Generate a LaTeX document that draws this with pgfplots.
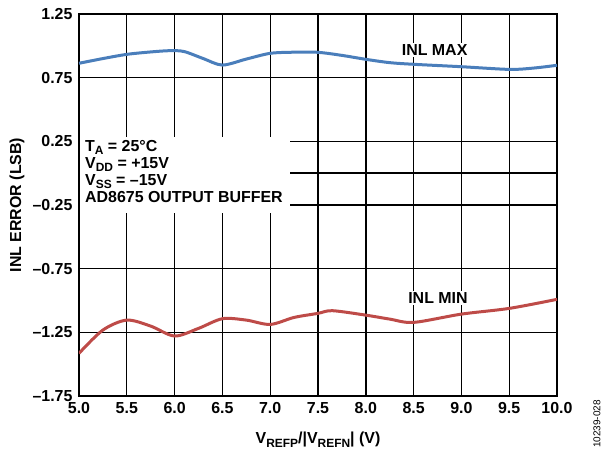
\documentclass[border=0pt]{standalone}
\usepackage{fontspec}
\setmainfont{Liberation Sans}
\usepackage{pgfplots}
\pgfplotsset{compat=1.18}
\definecolor{inlblue}{RGB}{74,126,187}
\definecolor{inlred}{RGB}{190,75,72}
\newcommand\sub[1]{\raisebox{-0.2em}{\fontsize{12}{12}\selectfont #1}}
\begin{document}
\begin{tikzpicture}
\path[use as bounding box] (-79bp,-56bp) rectangle (522bp,396bp);
\begin{axis}[
  scale only axis,
  width=478bp, height=382bp,
  xmin=5, xmax=10, ymin=-1.75, ymax=1.25,
  xtick={5,5.5,...,10},
  xticklabels={5.0,5.5,6.0,6.5,7.0,7.5,8.0,8.5,9.0,9.5,10.0},
  ytick={-1.75,-1.25,-0.75,-0.25,0,0.25,0.75,1.25},
  yticklabels={–1.75,–1.25,–0.75,–0.25,,0.25,0.75,1.25},
  /pgf/number format/assume math mode=true,
  tick style={draw=none},
  grid=major,
  major grid style={black, line width=1.4bp},
  axis line style={black, line width=2bp},
  tick label style={font=\fontsize{16}{17}\selectfont\bfseries},
  label style={font=\fontsize{16}{17}\selectfont\bfseries},
  xticklabel style={yshift=-3bp},
  yticklabel style={xshift=-3bp},
  xlabel={V\sub{REFP}/|V\sub{REFN}| (V)},
  ylabel={INL ERROR (LSB)},
  xlabel style={at={(axis description cs:0.5,-0.115)}, anchor=center},
  ylabel style={at={(axis description cs:-0.1297,0.5)}, anchor=center},
]
\fill[white] ([xshift=1.2bp]axis cs:5,-0.313) rectangle (axis cs:7.21,0.284);
\node[anchor=north west, align=left, inner sep=0pt,
      font=\fontsize{16}{17.2}\selectfont\bfseries]
  at ([xshift=6bp,yshift=-3bp]axis cs:5,0.284)
  {T\sub{A} = 25°C\\V\sub{DD} = +15V\\V\sub{SS} = –15V\\AD8675 OUTPUT BUFFER};
\addplot[inlblue, line width=3bp, smooth] coordinates {
(5.0,0.863) (5.25,0.90) (5.5,0.933) (5.75,0.952) (5.95,0.962) (6.1,0.955)
(6.3,0.9) (6.5,0.849) (6.75,0.896) (7.0,0.941) (7.25,0.95)
(7.5,0.949) (7.75,0.925) (8.0,0.894) (8.25,0.868) (8.5,0.855) (9.0,0.836)
(9.5,0.815) (9.75,0.825) (10.0,0.847)};
\addplot[inlred, line width=3bp, smooth] coordinates {
(5.0,-1.415) (5.25,-1.232) (5.5,-1.154) (5.75,-1.201) (6.0,-1.279) (6.25,-1.219)
(6.5,-1.143) (6.75,-1.154) (7.0,-1.188) (7.25,-1.133) (7.5,-1.101) (7.65,-1.08)
(8.0,-1.115) (8.25,-1.146) (8.5,-1.172) (9.0,-1.107) (9.5,-1.062) (10.0,-0.991)};
\node[fill=white, inner sep=1.5bp, font=\fontsize{16}{17}\selectfont\bfseries]
  at (axis cs:8.72,0.967) {INL MAX};
\node[fill=white, inner sep=1.5bp, font=\fontsize{16}{17}\selectfont\bfseries]
  at (axis cs:8.755,-0.981) {INL MIN};
\end{axis}
\node[rotate=90, font=\fontsize{10}{10}\selectfont] at (518bp,-28bp) {10239-028};
\end{tikzpicture}
\end{document}
